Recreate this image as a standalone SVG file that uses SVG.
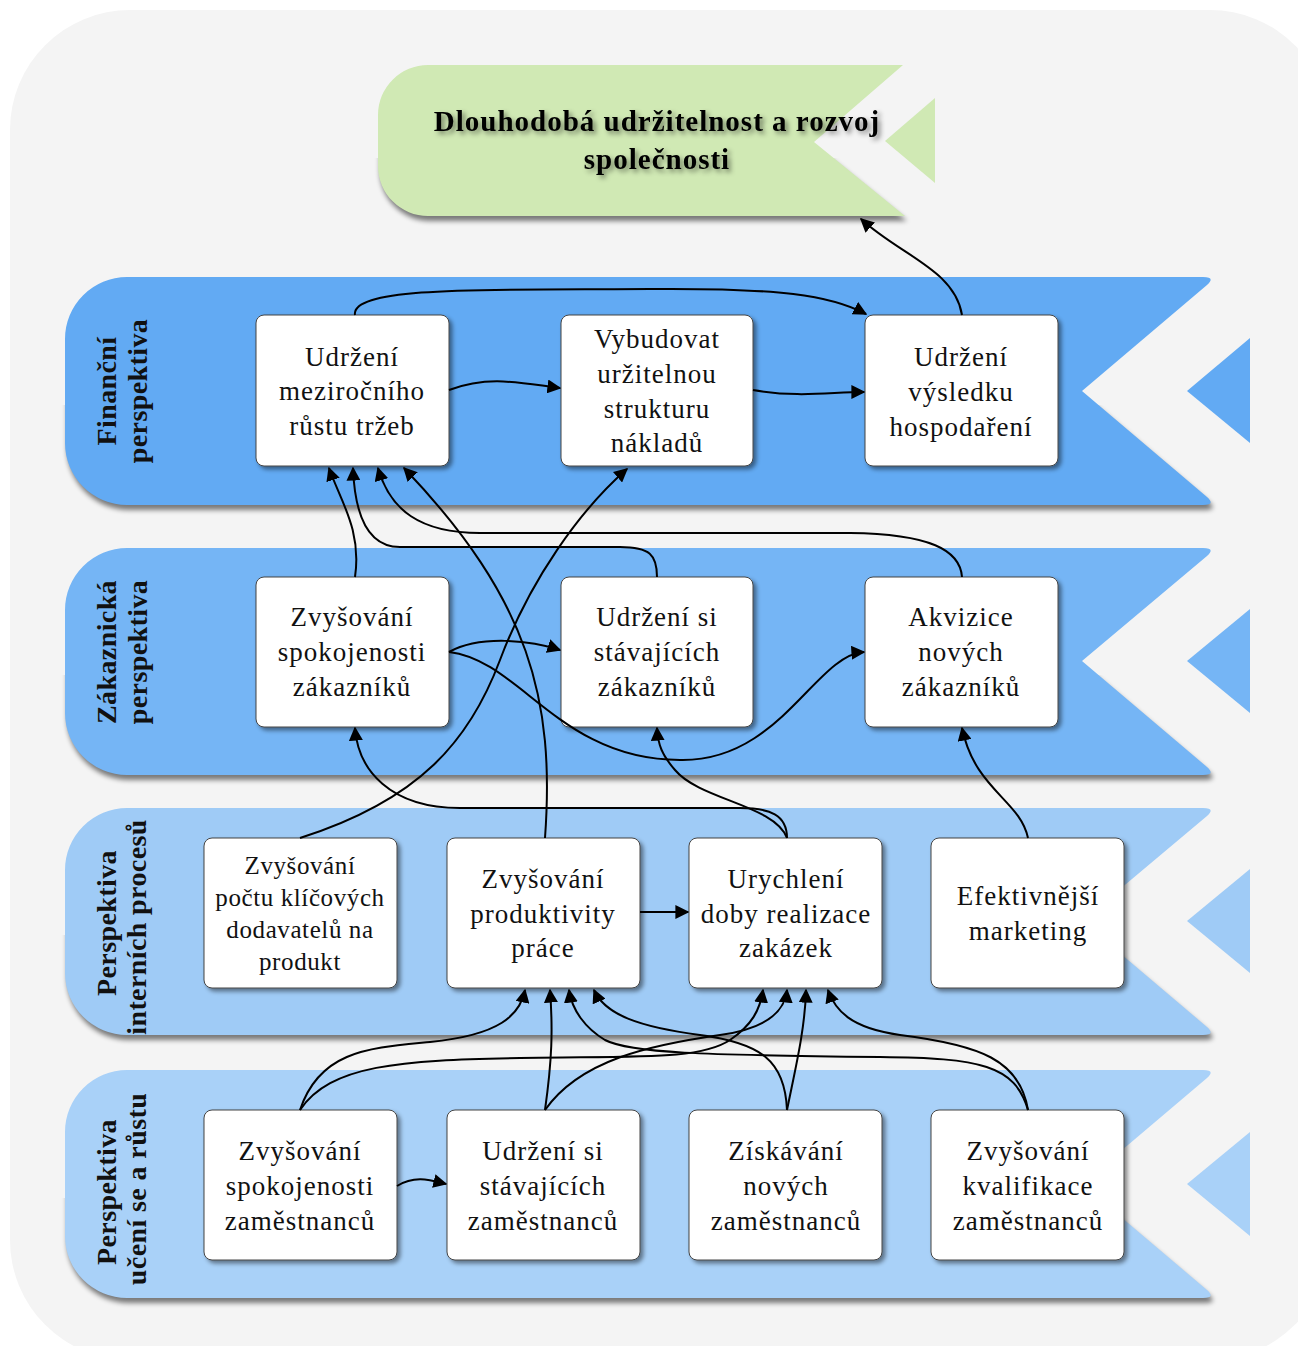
<svg xmlns="http://www.w3.org/2000/svg" width="1298" height="1346" viewBox="0 0 1298 1346">
<defs>
<style>
.bg{fill:#f4f4f4}
.b1{fill:#62aaf3}
.b2{fill:#75b5f5}
.b3{fill:#9fcbf6}
.b4{fill:#a9d1f8}
.sh{fill:#000;opacity:0.5;filter:url(#blur)}
.node rect{fill:#ffffff;stroke:#444;stroke-width:1;filter:url(#ns)}
.t{font-family:"Liberation Serif","Times New Roman",serif;font-size:27px;letter-spacing:1px;fill:#111;text-anchor:middle}
.ts{font-size:25px;letter-spacing:0.6px}
.lbl{font-family:"Liberation Serif","Times New Roman",serif;font-size:28px;font-weight:bold;letter-spacing:0.4px;fill:#111;text-anchor:middle}
.ttl{font-family:"Liberation Serif","Times New Roman",serif;font-size:29px;font-weight:bold;letter-spacing:1px;fill:#000;text-anchor:middle;filter:url(#tsh)}
.c{fill:none;stroke:#000;stroke-width:2;marker-end:url(#ah)}
</style>
<filter id="ns" x="-10%" y="-10%" width="125%" height="125%"><feDropShadow dx="3" dy="3" stdDeviation="2" flood-color="#000" flood-opacity="0.45"/></filter>
<filter id="blur" x="-5%" y="-20%" width="110%" height="140%"><feGaussianBlur stdDeviation="2.5"/></filter>
<filter id="tsh" x="-10%" y="-30%" width="120%" height="170%"><feDropShadow dx="3" dy="3" stdDeviation="2.5" flood-color="#000" flood-opacity="0.45"/></filter>
<clipPath id="cb0"><rect x="0" y="158" width="1298" height="90"/></clipPath>
<clipPath id="cb1"><rect x="0" y="405" width="1298" height="130"/></clipPath>
<clipPath id="cb2"><rect x="0" y="675" width="1298" height="130"/></clipPath>
<clipPath id="cb3"><rect x="0" y="935" width="1298" height="130"/></clipPath>
<clipPath id="cb4"><rect x="0" y="1198" width="1298" height="130"/></clipPath>
<marker id="ah" viewBox="0 0 10 10" refX="9" refY="5" markerWidth="7" markerHeight="7" orient="auto"><path d="M0,0 L10,5 L0,10 z" fill="#000"/></marker>
</defs>
<rect width="1298" height="1346" fill="#ffffff"/>
<rect class="bg" x="10" y="10" width="1320" height="1350" rx="120"/>

<g id="banner">
<g clip-path="url(#cb0)"><path class="sh" transform="translate(2,5)" d="M428,65 H903 L814,142 L905,216 H428 A50,50 0 0 1 378,166 V115 A50,50 0 0 1 428,65 Z"/></g>
<path d="M428,65 H903 L814,142 L905,216 H428 A50,50 0 0 1 378,166 V115 A50,50 0 0 1 428,65 Z" fill="#d0e9b4"/>
<path d="M935,98 L885,141 L935,183 Z" fill="#d0e9b4"/>
<text class="ttl" x="657" y="131">Dlouhodobá udržitelnost a rozvoj</text>
<text class="ttl" x="657" y="169">společnosti</text>
</g>

<g id="band-financni">
<g clip-path="url(#cb1)"><path class="sh" transform="translate(2,5)" d="M127,277 H1203 Q1216,277 1207,285 L1082,391 L1207,497 Q1216,505 1203,505 H127 A62,62 0 0 1 65,443 V339 A62,62 0 0 1 127,277 Z"/></g>
<path class="b1" d="M127,277 H1203 Q1216,277 1207,285 L1082,391 L1207,497 Q1216,505 1203,505 H127 A62,62 0 0 1 65,443 V339 A62,62 0 0 1 127,277 Z"/>
<path class="b1" d="M1250,338 L1187,391 L1250,443 Z"/>
<text class="lbl" transform="rotate(-90 116 391)" x="116" y="391">Finanční</text>
<text class="lbl" transform="rotate(-90 147 391)" x="147" y="391">perspektiva</text>
</g>
<g id="band-zakaznicka">
<g clip-path="url(#cb2)"><path class="sh" transform="translate(2,5)" d="M127,548 H1203 Q1216,548 1207,556 L1082,661 L1207,767 Q1216,775 1203,775 H127 A62,62 0 0 1 65,713 V610 A62,62 0 0 1 127,548 Z"/></g>
<path class="b2" d="M127,548 H1203 Q1216,548 1207,556 L1082,661 L1207,767 Q1216,775 1203,775 H127 A62,62 0 0 1 65,713 V610 A62,62 0 0 1 127,548 Z"/>
<path class="b2" d="M1250,609 L1187,661 L1250,713 Z"/>
<text class="lbl" transform="rotate(-90 116 652)" x="116" y="652">Zákaznická</text>
<text class="lbl" transform="rotate(-90 147 652)" x="147" y="652">perspektiva</text>
</g>
<g id="band-interni">
<g clip-path="url(#cb3)"><path class="sh" transform="translate(2,5)" d="M127,808 H1203 Q1216,808 1207,816 L1082,921 L1207,1027 Q1216,1035 1203,1035 H127 A62,62 0 0 1 65,973 V870 A62,62 0 0 1 127,808 Z"/></g>
<path class="b3" d="M127,808 H1203 Q1216,808 1207,816 L1082,921 L1207,1027 Q1216,1035 1203,1035 H127 A62,62 0 0 1 65,973 V870 A62,62 0 0 1 127,808 Z"/>
<path class="b3" d="M1250,869 L1187,921 L1250,973 Z"/>
<text class="lbl" transform="rotate(-90 116 923)" x="116" y="923">Perspektiva</text>
<text class="lbl" transform="rotate(-90 146 927)" x="146" y="927">interních procesů</text>
</g>
<g id="band-uceni">
<g clip-path="url(#cb4)"><path class="sh" transform="translate(2,5)" d="M127,1070 H1203 Q1216,1070 1207,1078 L1082,1184 L1207,1290 Q1216,1298 1203,1298 H127 A62,62 0 0 1 65,1236 V1132 A62,62 0 0 1 127,1070 Z"/></g>
<path class="b4" d="M127,1070 H1203 Q1216,1070 1207,1078 L1082,1184 L1207,1290 Q1216,1298 1203,1298 H127 A62,62 0 0 1 65,1236 V1132 A62,62 0 0 1 127,1070 Z"/>
<path class="b4" d="M1250,1132 L1187,1184 L1250,1236 Z"/>
<text class="lbl" transform="rotate(-90 116 1192)" x="116" y="1192">Perspektiva</text>
<text class="lbl" transform="rotate(-90 146 1189)" x="146" y="1189">učení se a růstu</text>
</g>

<g id="f1" class="node"><rect x="256" y="315" width="193" height="151" rx="8"/>
<text class="t" x="352" y="366">Udržení</text><text class="t" x="352" y="400">meziročního</text><text class="t" x="352" y="435">růstu tržeb</text></g>
<g id="f2" class="node"><rect x="561" y="315" width="192" height="151" rx="8"/>
<text class="t" x="657" y="348">Vybudovat</text><text class="t" x="657" y="383">uržitelnou</text><text class="t" x="657" y="418">strukturu</text><text class="t" x="657" y="452">nákladů</text></g>
<g id="f3" class="node"><rect x="865" y="315" width="193" height="151" rx="8"/>
<text class="t" x="961" y="366">Udržení</text><text class="t" x="961" y="401">výsledku</text><text class="t" x="961" y="436">hospodaření</text></g>

<g id="z1" class="node"><rect x="256" y="577" width="193" height="150" rx="8"/>
<text class="t" x="352" y="626">Zvyšování</text><text class="t" x="352" y="661">spokojenosti</text><text class="t" x="352" y="696">zákazníků</text></g>
<g id="z2" class="node"><rect x="561" y="577" width="192" height="150" rx="8"/>
<text class="t" x="657" y="626">Udržení si</text><text class="t" x="657" y="661">stávajících</text><text class="t" x="657" y="696">zákazníků</text></g>
<g id="z3" class="node"><rect x="865" y="577" width="193" height="150" rx="8"/>
<text class="t" x="961" y="626">Akvizice</text><text class="t" x="961" y="661">nových</text><text class="t" x="961" y="696">zákazníků</text></g>

<g id="i1" class="node"><rect x="204" y="838" width="193" height="150" rx="8"/>
<text class="t ts" x="300" y="874">Zvyšování</text><text class="t ts" x="300" y="906">počtu klíčových</text><text class="t ts" x="300" y="938">dodavatelů na</text><text class="t ts" x="300" y="970">produkt</text></g>
<g id="i2" class="node"><rect x="447" y="838" width="193" height="150" rx="8"/>
<text class="t" x="543" y="888">Zvyšování</text><text class="t" x="543" y="923">produktivity</text><text class="t" x="543" y="957">práce</text></g>
<g id="i3" class="node"><rect x="689" y="838" width="193" height="150" rx="8"/>
<text class="t" x="786" y="888">Urychlení</text><text class="t" x="786" y="923">doby realizace</text><text class="t" x="786" y="957">zakázek</text></g>
<g id="i4" class="node"><rect x="931" y="838" width="193" height="150" rx="8"/>
<text class="t" x="1028" y="905">Efektivnější</text><text class="t" x="1028" y="940">marketing</text></g>

<g id="u1" class="node"><rect x="204" y="1110" width="193" height="150" rx="8"/>
<text class="t" x="300" y="1160">Zvyšování</text><text class="t" x="300" y="1195">spokojenosti</text><text class="t" x="300" y="1230">zaměstnanců</text></g>
<g id="u2" class="node"><rect x="447" y="1110" width="193" height="150" rx="8"/>
<text class="t" x="543" y="1160">Udržení si</text><text class="t" x="543" y="1195">stávajících</text><text class="t" x="543" y="1230">zaměstnanců</text></g>
<g id="u3" class="node"><rect x="689" y="1110" width="193" height="150" rx="8"/>
<text class="t" x="786" y="1160">Získávání</text><text class="t" x="786" y="1195">nových</text><text class="t" x="786" y="1230">zaměstnanců</text></g>
<g id="u4" class="node"><rect x="931" y="1110" width="193" height="150" rx="8"/>
<text class="t" x="1028" y="1160">Zvyšování</text><text class="t" x="1028" y="1195">kvalifikace</text><text class="t" x="1028" y="1230">zaměstnanců</text></g>

<g id="connectors">
<path class="c" d="M355,315 C350,285 500,290 650,289 C780,288 830,295 866,314"/>
<path class="c" d="M449,390 C490,375 520,383 560,388"/>
<path class="c" d="M753,390 C800,398 830,392 864,392"/>
<path class="c" d="M962,315 C955,270 900,255 861,219"/>

<path class="c" d="M355,577 C362,530 340,500 329,468"/>
<path class="c" d="M657,577 C657,555 650,547 620,547 L400,547 C370,547 355,520 353,468"/>
<path class="c" d="M962,577 C960,550 930,534 850,533 L480,533 C420,533 390,510 378,468"/>
<path class="c" d="M545,838 C555,700 530,600 404,468"/>
<path class="c" d="M300,838 C420,800 470,740 500,660 C530,580 580,510 627,469"/>

<path class="c" d="M449,652 C480,635 530,640 560,650"/>
<path class="c" d="M449,652 C520,660 560,760 680,760 C780,762 815,655 864,652"/>

<path class="c" d="M787,838 C787,815 770,808 740,808 L460,808 C390,808 358,770 355,728"/>
<path class="c" d="M787,838 C775,805 700,800 675,770 C662,755 658,745 657,728"/>
<path class="c" d="M1028,838 C1020,800 975,790 962,728"/>

<path class="c" d="M640,912 L688,912"/>

<path class="c" d="M300,1110 C320,1050 370,1048 430,1042 C500,1035 520,1015 525,990"/>
<path class="c" d="M300,1110 C330,1065 400,1060 520,1058 C640,1056 700,1060 730,1040 C752,1025 760,1010 763,990"/>
<path class="c" d="M545,1110 C552,1060 553,1030 550,990"/>
<path class="c" d="M545,1110 C580,1060 650,1045 720,1035 C770,1028 785,1010 787,990"/>
<path class="c" d="M787,1110 C785,1060 760,1043 700,1035 C640,1027 605,1015 594,990"/>
<path class="c" d="M787,1110 C795,1070 805,1030 806,990"/>
<path class="c" d="M1028,1110 C1015,1065 980,1058 880,1057 C700,1055 630,1053 605,1040 C585,1028 572,1010 569,990"/>
<path class="c" d="M1028,1110 C1020,1060 980,1045 900,1035 C850,1028 835,1010 828,990"/>

<path class="c" d="M397,1186 C415,1175 430,1180 446,1184"/>
</g>
</svg>
